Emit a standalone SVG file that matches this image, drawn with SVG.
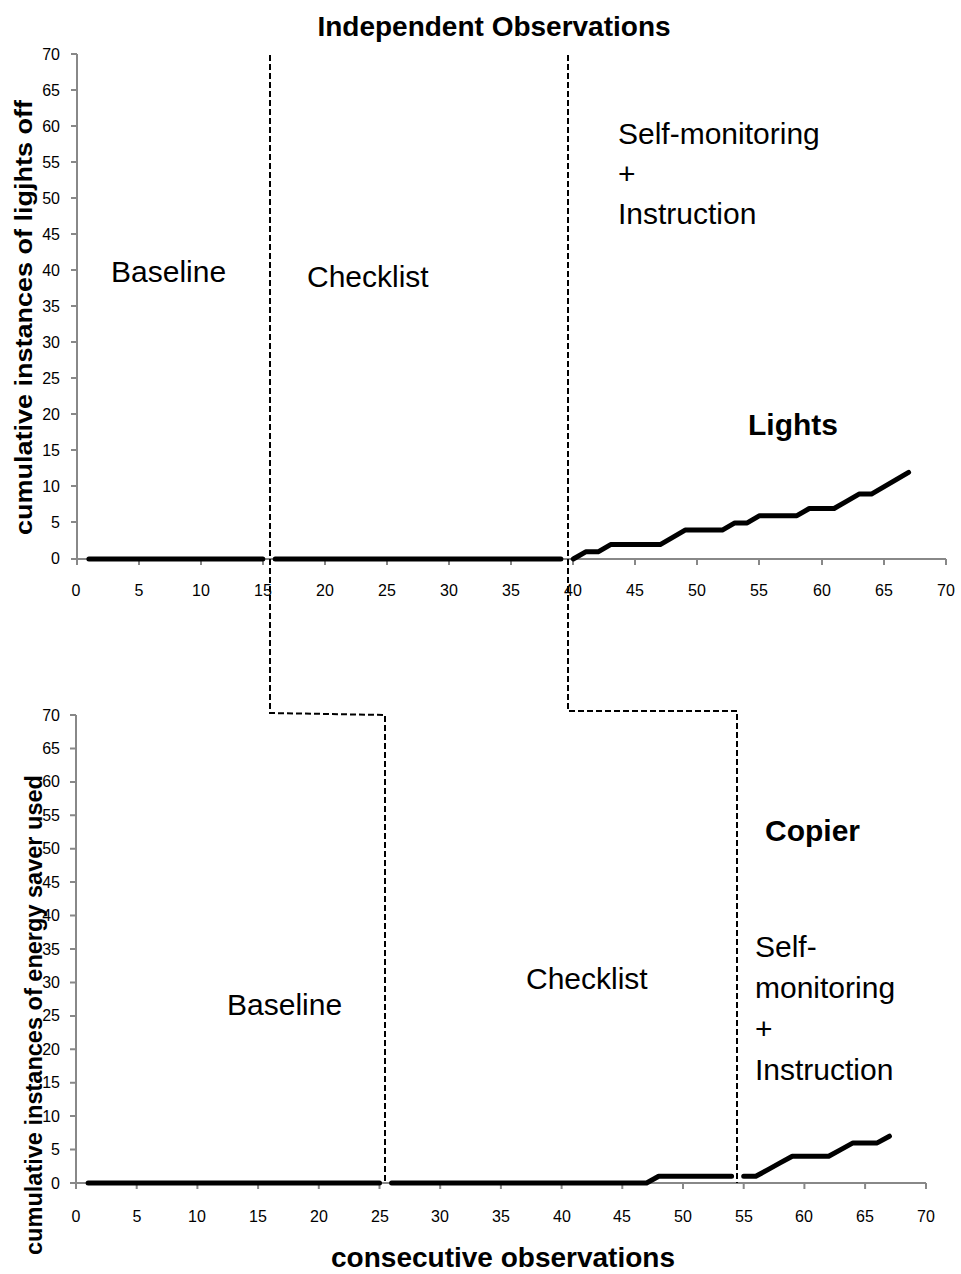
<svg xmlns="http://www.w3.org/2000/svg" width="961" height="1274" viewBox="0 0 961 1274">
<style>
text{font-family:"Liberation Sans",Arial,sans-serif;fill:#000}
.tick{font-size:16px}
.ty{text-anchor:end}
.tx{text-anchor:middle}
.lab{font-size:30px}
.bold{font-weight:bold}
.axis{stroke:#888;stroke-width:2;fill:none}
.data{stroke:#000;stroke-width:5;fill:none;stroke-linecap:round;stroke-linejoin:round}
.dash{stroke:#000;stroke-width:2;fill:none;stroke-dasharray:6 3}
</style>
<rect width="961" height="1274" fill="#fff"/>
<text class="bold" x="494" y="36" font-size="28" text-anchor="middle">Independent Observations</text>

<g id="top-chart">
<g id="top-axes">
<path class="axis" d="M77,54V559H946"/>
<path class="axis" d="M71,54H77M71,90H77M71,126H77M71,162H77M71,198H77M71,234H77M71,270H77M71,306H77M71,342H77M71,378H77M71,414H77M71,450H77M71,486H77M71,522H77M71,559H77"/>
<path class="axis" d="M77,559V565M139,559V565M201,559V565M263,559V565M325,559V565M387,559V565M449,559V565M511,559V565M573,559V565M635,559V565M697,559V565M759,559V565M822,559V565M884,559V565M946,559V565"/>
<g class="tick ty">
<text x="60" y="60">70</text><text x="60" y="96">65</text><text x="60" y="132">60</text><text x="60" y="168">55</text><text x="60" y="204">50</text><text x="60" y="240">45</text><text x="60" y="276">40</text><text x="60" y="312">35</text><text x="60" y="348">30</text><text x="60" y="384">25</text><text x="60" y="420">20</text><text x="60" y="456">15</text><text x="60" y="492">10</text><text x="60" y="528">5</text><text x="60" y="564">0</text>
</g>
<g class="tick tx">
<text x="76" y="596">0</text><text x="139" y="596">5</text><text x="201" y="596">10</text><text x="263" y="596">15</text><text x="325" y="596">20</text><text x="387" y="596">25</text><text x="449" y="596">30</text><text x="511" y="596">35</text><text x="573" y="596">40</text><text x="635" y="596">45</text><text x="697" y="596">50</text><text x="759" y="596">55</text><text x="822" y="596">60</text><text x="884" y="596">65</text><text x="946" y="596">70</text>
</g>
<text class="bold" transform="translate(32,317.5) rotate(-90)" font-size="24" text-anchor="middle" textLength="435" lengthAdjust="spacingAndGlyphs">cumulative instances of  ligjhts off</text>
</g>
<g id="top-data">
<path class="data" d="M88.9,559H262.8"/>
<path class="data" d="M275.2,559H560.9"/>
<path class="data" d="M573.3,559L585.7,551.8L598.1,551.8L610.6,544.6L660.2,544.6L672.7,537.4L685.1,530.1L722.3,530.1L734.8,522.9L747.2,522.9L759.6,515.7L796.9,515.7L809.3,508.5L834.1,508.5L846.5,501.3L859,494.1L871.4,494.1L883.8,486.9L896.2,479.6L908.6,472.4"/>
</g>
<g id="top-labels">
<text class="lab" x="111" y="282">Baseline</text>
<text class="lab" x="307" y="287">Checklist</text>
<text class="lab" x="618" y="144">Self-monitoring</text>
<text class="lab" x="618" y="184">+</text>
<text class="lab" x="618" y="224">Instruction</text>
<text class="lab bold" x="748" y="435">Lights</text>
</g>
</g>

<g id="bottom-chart">
<g id="bottom-axes">
<path class="axis" d="M76,715V1183H926"/>
<path class="axis" d="M70,715H76M70,748.4H76M70,781.9H76M70,815.3H76M70,848.7H76M70,882.1H76M70,915.6H76M70,949H76M70,982.4H76M70,1015.9H76M70,1049.3H76M70,1082.7H76M70,1116.1H76M70,1149.6H76M70,1183H76"/>
<path class="axis" d="M76,1183V1189M136.7,1183V1189M197.4,1183V1189M258.1,1183V1189M318.8,1183V1189M379.5,1183V1189M440.2,1183V1189M500.9,1183V1189M561.6,1183V1189M622.3,1183V1189M683,1183V1189M743.7,1183V1189M804.4,1183V1189M865.1,1183V1189M926,1183V1189"/>
<g class="tick ty">
<text x="60" y="721">70</text><text x="60" y="754">65</text><text x="60" y="787">60</text><text x="60" y="821">55</text><text x="60" y="854">50</text><text x="60" y="888">45</text><text x="60" y="921">40</text><text x="60" y="955">35</text><text x="60" y="988">30</text><text x="60" y="1021">25</text><text x="60" y="1055">20</text><text x="60" y="1088">15</text><text x="60" y="1122">10</text><text x="60" y="1155">5</text><text x="60" y="1189">0</text>
</g>
<g class="tick tx">
<text x="76" y="1222">0</text><text x="137" y="1222">5</text><text x="197" y="1222">10</text><text x="258" y="1222">15</text><text x="319" y="1222">20</text><text x="380" y="1222">25</text><text x="440" y="1222">30</text><text x="501" y="1222">35</text><text x="562" y="1222">40</text><text x="622" y="1222">45</text><text x="683" y="1222">50</text><text x="744" y="1222">55</text><text x="804" y="1222">60</text><text x="865" y="1222">65</text><text x="926" y="1222">70</text>
</g>
<text class="bold" transform="translate(42,1015) rotate(-90)" font-size="24" text-anchor="middle" textLength="480" lengthAdjust="spacingAndGlyphs">cumulative instances of energy saver used</text>
</g>
<g id="bottom-data">
<path class="data" d="M88.1,1183H379.5"/>
<path class="data" d="M391.6,1183H646.6L658.7,1176.3H731.6"/>
<path class="data" d="M743.7,1176.3L755.8,1176.3L768,1169.6L780.1,1162.9L792.3,1156.3L828.7,1156.3L840.8,1149.6L853,1142.9L877.2,1142.9L889.4,1136.2"/>
</g>
<g id="bottom-labels">
<text class="lab" x="227" y="1015">Baseline</text>
<text class="lab" x="526" y="989">Checklist</text>
<text class="lab" x="755" y="957">Self-</text>
<text class="lab" x="755" y="998">monitoring</text>
<text class="lab" x="755" y="1039">+</text>
<text class="lab" x="755" y="1080">Instruction</text>
<text class="lab bold" x="765" y="841">Copier</text>
</g>
</g>

<g id="connectors">
<path class="dash" d="M270,55V713L385,715V1183"/>
<path class="dash" d="M568,55V711H737V1183"/>
</g>

<text class="bold" x="503" y="1267" font-size="28" text-anchor="middle">consecutive observations</text>
</svg>
